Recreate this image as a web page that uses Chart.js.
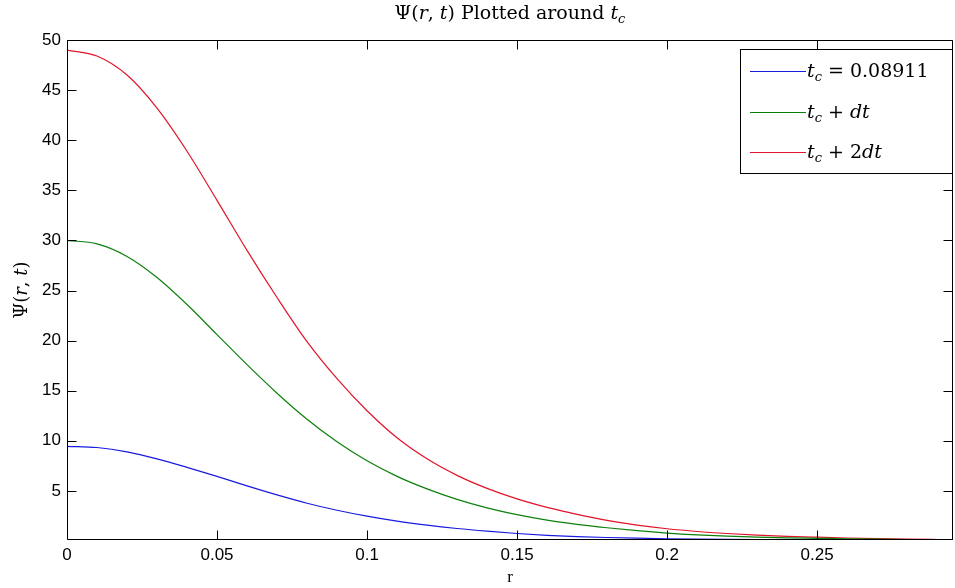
<!DOCTYPE html>
<html><head><meta charset="utf-8">
<script src="https://cdn.jsdelivr.net/npm/chart.js@4.4.1/dist/chart.umd.min.js"></script>
<style>html,body{margin:0;padding:0;background:#fff;}#wrap{width:955px;height:588px;}</style>
</head><body><div id="wrap"><canvas id="c" width="955" height="588"></canvas></div>
<script>
// ---- data ----
const rValues = [0,0.01,0.02,0.03,0.04,0.05,0.06,0.07,0.08,0.09,0.10,0.11,0.12,0.13,0.14,0.15,0.16,0.17,0.18,0.19,0.20,0.21,0.22,0.23,0.24,0.25,0.26,0.27,0.28,0.29,0.2953];
const psiTc    = [9.45,9.33,8.9,8.2,7.35,6.45,5.5,4.6,3.77,3.07,2.48,1.98,1.58,1.25,0.98,0.75,0.57,0.44,0.35,0.28,0.22,0.18,0.155,0.14,0.13,0.125,0.12,0.12,0.12,0.12,0.12];
const psiTcDt  = [30.0,29.65,28.4,26.3,23.6,20.6,17.6,14.75,12.15,9.9,8.0,6.45,5.2,4.15,3.3,2.63,2.08,1.66,1.32,1.03,0.79,0.61,0.48,0.39,0.32,0.27,0.22,0.18,0.15,0.13,0.12];
const psiTc2Dt = [49.0,48.4,46.5,43.2,38.9,34.0,29.0,24.3,19.9,16.2,13.0,10.3,8.2,6.55,5.25,4.2,3.35,2.65,2.05,1.58,1.22,0.95,0.75,0.59,0.47,0.38,0.3,0.24,0.19,0.15,0.13];
const seriesNames = ['$t_c = 0.08911$', '$t_c + dt$', '$t_c + 2dt$'];
const seriesColors = ['#1a1ae0', '#0c800c', '#e0142a'];
const xTicks = [0,0.05,0.1,0.15,0.2,0.25];
const xTickLabels = ['0','0.05','0.1','0.15','0.2','0.25'];
const yTicks = [5,10,15,20,25,30,35,40,45,50];
const yTickLabels = ['5','10','15','20','25','30','35','40','45','50'];
const titleText = '$Ψ(r, t)$ Plotted around $t_c$';
const xLabel = 'r';
const yLabel = '$Ψ(r, t)$';
const xMin = 0, xMax = 0.2953, yMin = 0.1, yMax = 50;

// ---- rich text (tiny LaTeX-like) ----
const SERIF = "'DejaVu Serif', 'Liberation Serif', serif";
function mathRuns(str){
  const runs=[]; const parts=str.split('$');
  parts.forEach((p,i)=>{
    const math = i%2===1;
    for(let k=0;k<p.length;k++){
      let ch=p[k], sub=false;
      if(math && ch==='_'){k++; ch=p[k]; sub=true;}
      const it = math && /[A-Za-z]/.test(ch);
      const last = runs[runs.length-1];
      if(last && last.it===it && last.sub===sub) last.t+=ch; else runs.push({t:ch,it,sub});
    }
  });
  return runs;
}
function drawRich(ctx,str,x,y,size,align){
  const runs=mathRuns(str);
  const font=r=>`${r.it?'italic ':''}${r.sub?Math.round(size*0.7):size}px ${SERIF}`;
  let w=0; runs.forEach(r=>{ctx.font=font(r); r.w=ctx.measureText(r.t).width; w+=r.w;});
  let cx = align==='center'? x-w/2 : (align==='right'? x-w : x);
  ctx.textAlign='left'; ctx.textBaseline='alphabetic'; ctx.fillStyle='#000';
  runs.forEach(r=>{ctx.font=font(r); ctx.fillText(r.t,cx,y+(r.sub?size*0.22:0)); cx+=r.w;});
  return w;
}

// ---- decorations plugin ----
const matlabAxes = {
  id:'matlabAxes',
  afterDatasetsDraw(chart){
    const {ctx, chartArea:a, scales:{x,y}} = chart;
    ctx.save();
    ctx.strokeStyle='#000'; ctx.lineWidth=1;
    const L=Math.round(a.left)+0.5, R=Math.round(a.right)-0.5, T=Math.round(a.top)+0.5, B=Math.round(a.bottom)-0.5;
    ctx.beginPath(); ctx.rect(L,T,R-L,B-T); ctx.stroke();
    const tl=9;
    ctx.beginPath();
    xTicks.forEach(v=>{const p=Math.round(x.getPixelForValue(v))+0.5; ctx.moveTo(p,B); ctx.lineTo(p,B-tl); ctx.moveTo(p,T); ctx.lineTo(p,T+tl);});
    yTicks.forEach(v=>{const p=Math.round(y.getPixelForValue(v))+0.5; ctx.moveTo(L,p); ctx.lineTo(L+tl,p); ctx.moveTo(R,p); ctx.lineTo(R-tl,p);});
    ctx.stroke();
    ctx.restore();
  },
  afterDraw(chart){
    const {ctx, chartArea:a} = chart;
    ctx.save();
    // title
    drawRich(ctx,titleText,(a.left+a.right)/2,19,19,'center');
    // x label
    ctx.font="17px 'Liberation Serif', serif"; ctx.fillStyle='#000'; ctx.textAlign='center'; ctx.textBaseline='alphabetic';
    ctx.fillText(xLabel,(a.left+a.right)/2,582);
    // y label
    ctx.save(); ctx.translate(27,(a.top+a.bottom)/2); ctx.rotate(-Math.PI/2);
    drawRich(ctx,yLabel,0,0,18,'center'); ctx.restore();
    // legend box
    const bx=740.5, by=49.5, bw=212, bh=124;
    ctx.fillStyle='#fff'; ctx.fillRect(bx,by,bw,bh);
    ctx.strokeStyle='#000'; ctx.lineWidth=1; ctx.strokeRect(bx,by,bw,bh);
    const rows=[71,112,152];
    chart.data.datasets.forEach((ds,i)=>{
      ctx.strokeStyle=seriesColors[i]; ctx.lineWidth=1;
      ctx.beginPath(); ctx.moveTo(750,rows[i]+0.5); ctx.lineTo(806,rows[i]+0.5); ctx.stroke();
      drawRich(ctx,ds.label,807,rows[i]+6,19,'left');
    });
    ctx.restore();
  }
};

const mk = (vals,i)=>({label:seriesNames[i], data:rValues.map((r,k)=>({x:r,y:vals[k]})), borderColor:seriesColors[i], borderWidth:1.2, pointRadius:0, fill:false, cubicInterpolationMode:'monotone'});

new Chart(document.getElementById('c'),{
  type:'line',
  data:{datasets:[mk(psiTc,0),mk(psiTcDt,1),mk(psiTc2Dt,2)]},
  options:{
    responsive:false, animation:false, devicePixelRatio:1,
    layout:{padding:{top:40,right:2,left:0,bottom:0}},
    plugins:{legend:{display:false},title:{display:false},tooltip:{enabled:false}},
    scales:{
      x:{type:'linear',min:xMin,max:xMax,grid:{display:false,drawTicks:false},border:{display:false},
        afterBuildTicks:s=>{s.ticks=xTicks.map(v=>({value:v}));},
        afterFit:s=>{s.height=48;},
        ticks:{padding:5,autoSkip:false,maxRotation:0,color:'#000',font:{family:"'Liberation Sans', Arial, sans-serif",size:17},callback:(v,i)=>xTickLabels[i]}},
      y:{type:'linear',min:yMin,max:yMax,grid:{display:false,drawTicks:false},border:{display:false},
        afterBuildTicks:s=>{s.ticks=yTicks.map(v=>({value:v}));},
        afterFit:s=>{s.width=67;},
        ticks:{padding:6,autoSkip:false,color:'#000',font:{family:"'Liberation Sans', Arial, sans-serif",size:17},callback:(v,i)=>yTickLabels[i]}}
    }
  },
  plugins:[matlabAxes]
});
</script></body></html>
